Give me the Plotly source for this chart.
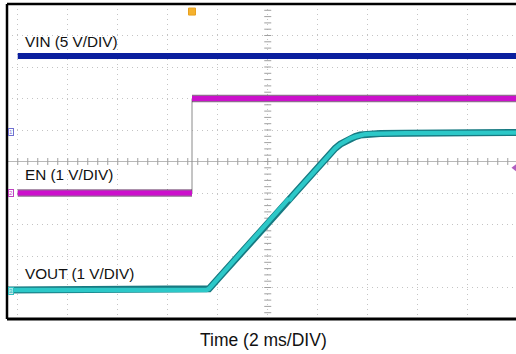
import numpy as np
import plotly.graph_objects as go

# ---- waveform data (time in ms, centre of screen = 0; levels in volts) ----
# Channel scales (V/div) and ground offsets (div from screen centre)
vin_scale, vin_offset = 5.0, 0.95
en_scale, en_offset = 1.0, -1.0
vout_scale, vout_offset = 1.0, -4.1

vin_t = [-10.0, 10.0]
vin_v = [12.0, 12.0]

en_t = [-10.0, -3.03, -3.03, 10.0]
en_v = [0.0, 0.0, 3.0, 3.0]

vout_t = [-10.45, -2.45, -2.35, -2.0, -1.0, 0.0, 0.80, 0.84, 0.86, 1.0, 2.0, 2.5,
          2.7, 2.9, 3.1, 3.3, 3.5, 3.7, 3.9, 4.1, 4.5, 5.5, 7.5, 10.0]
vout_v = [0.02, 0.02, 0.06, 0.37, 1.25, 2.13, 2.84, 2.92, 2.86, 3.02, 3.90, 4.36,
          4.52, 4.65, 4.75, 4.83, 4.89, 4.94, 4.965, 4.98, 4.99, 5.00, 5.01, 5.02]

trigger_time = -3.03      # ms, EN rising edge
trigger_level = 0.8       # V on EN channel

x_range = [-10.43, 9.93]
y_range = [-5, 5]


def to_div(values, scale, offset):
    return [offset + v / scale for v in values]


vin_y = to_div(vin_v, vin_scale, vin_offset)
en_y = to_div(en_v, en_scale, en_offset)
vout_y = to_div(vout_v, vout_scale, vout_offset)

fig = go.Figure()

# centre graticule tick marks
tick_t = np.arange(-10, 10.001, 0.4)
tick_v = np.arange(-5, 5.001, 0.2)
fig.add_trace(go.Scatter(x=tick_t, y=np.zeros_like(tick_t), mode="markers",
                         marker=dict(symbol="line-ns", size=5,
                                     line=dict(width=1, color="#a0a0a0")),
                         hoverinfo="skip"))
fig.add_trace(go.Scatter(x=np.zeros_like(tick_v), y=tick_v, mode="markers",
                         marker=dict(symbol="line-ew", size=5,
                                     line=dict(width=1, color="#a0a0a0")),
                         hoverinfo="skip"))

# VIN
fig.add_trace(go.Scatter(x=vin_t, y=vin_y, mode="lines",
                         line=dict(color="#0b1f9e", width=5.8), hoverinfo="skip"))

# EN: thin edge, then thick levels
fig.add_trace(go.Scatter(x=en_t, y=en_y, mode="lines",
                         line=dict(color="#8a8a8a", width=1), hoverinfo="skip"))
en_lvl_x = [en_t[0], en_t[1], None, en_t[2], en_t[3]]
en_lvl_y = [en_y[0], en_y[1], None, en_y[2], en_y[3]]
fig.add_trace(go.Scatter(x=en_lvl_x, y=en_lvl_y, mode="lines",
                         line=dict(color="rgba(70,10,70,0.6)", width=7.5),
                         hoverinfo="skip"))
fig.add_trace(go.Scatter(x=en_lvl_x, y=en_lvl_y, mode="lines",
                         line=dict(color="#cc10cc", width=5), hoverinfo="skip"))

# VOUT: dark outline with cyan core
fig.add_trace(go.Scatter(x=vout_t, y=vout_y, mode="lines",
                         line=dict(color="#177a82", width=7), hoverinfo="skip"))
fig.add_trace(go.Scatter(x=vout_t, y=vout_y, mode="lines",
                         line=dict(color="#2cc8c8", width=4.3), hoverinfo="skip"))

# trigger position and trigger level markers
fig.add_trace(go.Scatter(x=[trigger_time], y=[4.76], mode="markers",
                         marker=dict(symbol="square", size=7, color="#f5b22e",
                                     line=dict(width=1, color="#e8a020")),
                         hoverinfo="skip"))
fig.add_trace(go.Scatter(x=[9.87], y=[en_offset + trigger_level / en_scale],
                         mode="markers",
                         marker=dict(symbol="triangle-left", size=6,
                                     color="rgba(150,40,170,0.75)"),
                         hoverinfo="skip", cliponaxis=False))

font = "Liberation Sans, Arial, sans-serif"
annotations = [
    dict(text="VIN (5 V/DIV)", x=-9.79, y=3.80, xref="x", yref="y",
         xanchor="left", yanchor="middle", showarrow=False,
         font=dict(family=font, size=15.3, color="#111")),
    dict(text="EN (1 V/DIV)", x=-9.79, y=-0.40, xref="x", yref="y",
         xanchor="left", yanchor="middle", showarrow=False,
         font=dict(family=font, size=15.3, color="#111")),
    dict(text="VOUT (1 V/DIV)", x=-9.79, y=-3.54, xref="x", yref="y",
         xanchor="left", yanchor="middle", showarrow=False,
         font=dict(family=font, size=15.3, color="#111")),
    dict(text="Time (2 ms/DIV)", x=0.503, y=-0.068, xref="paper", yref="paper",
         xanchor="center", yanchor="middle", showarrow=False,
         font=dict(family=font, size=17.5, color="#111")),
]

# channel ground markers on the left edge
for label, y, col in [("1", vin_offset, "#7070d0"), ("2", en_offset, "#c040c0"),
                      ("3", vout_offset, "#30c0c0")]:
    annotations.append(dict(text=label, x=0.008, y=y, xref="paper", yref="y",
                            xanchor="center", yanchor="middle", showarrow=False,
                            font=dict(family=font, size=6, color=col),
                            bordercolor=col, borderwidth=1, borderpad=0,
                            bgcolor="rgba(255,255,255,0.6)"))

# black frame on left, top and bottom
shapes = [
    dict(type="line", xref="paper", yref="paper", x0=0, x1=0, y0=0, y1=1,
         line=dict(color="#000", width=2.5)),
    dict(type="line", xref="paper", yref="paper", x0=0, x1=1, y0=1, y1=1,
         line=dict(color="#000", width=2.5)),
    dict(type="line", xref="paper", yref="paper", x0=0, x1=1, y0=0, y1=0,
         line=dict(color="#000", width=3)),
]

grid = dict(showgrid=True, gridcolor="#c4c4c4", gridwidth=1, griddash="1px,4px",
            showticklabels=False, ticks="", showline=False, fixedrange=True)
fig.update_layout(
    width=516, height=354,
    margin=dict(l=7, r=0, t=4, b=35),
    paper_bgcolor="white", plot_bgcolor="white",
    showlegend=False,
    xaxis=dict(range=x_range, tick0=0, dtick=2, zeroline=False, **grid),
    yaxis=dict(range=y_range, tick0=0, dtick=1, zeroline=True,
               zerolinecolor="#b8b8b8", zerolinewidth=1, **grid),
    annotations=annotations,
    shapes=shapes,
)

fig.write_html("out.html", config={"displayModeBar": False})
